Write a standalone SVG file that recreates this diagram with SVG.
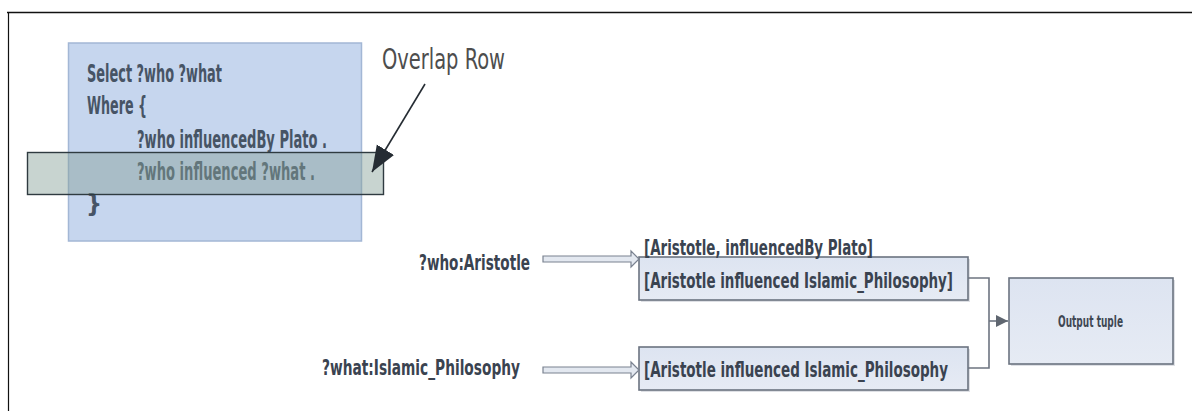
<svg xmlns="http://www.w3.org/2000/svg" width="1192" height="411" viewBox="0 0 1192 411">
  <style>
    .q { font-family: "Liberation Sans Narrow", "DejaVu Sans Condensed", "Liberation Sans", sans-serif; font-weight: bold; font-size: 25px; fill: #475465; }
    .lbl { font-family: "Liberation Sans Narrow", "DejaVu Sans Condensed", "Liberation Sans", sans-serif; font-weight: bold; font-size: 22px; fill: #3a4350; }
    .bx { font-family: "Liberation Sans Narrow", "DejaVu Sans Condensed", "Liberation Sans", sans-serif; font-weight: bold; font-size: 22px; fill: #3a4350; }
    .note { font-family: "Liberation Sans Narrow", "DejaVu Sans Condensed", "Liberation Sans", sans-serif; font-size: 29px; fill: #4d4d4d; }
    .node { fill: url(#g1); stroke: #6b7380; stroke-width: 1.6; }
    .shadow { fill: #c8ccd3; opacity: 0.6; }
    .hollow { fill: #e3e8f0; stroke: #7a8290; stroke-width: 1.2; }
    .conn { fill: none; stroke: #6d7480; stroke-width: 1.6; }
  </style>
  <defs>
    <linearGradient id="g1" x1="0" y1="0" x2="0" y2="1">
      <stop offset="0" stop-color="#dde4f1"/>
      <stop offset="1" stop-color="#e6ebf4"/>
    </linearGradient>
    <marker id="big" markerUnits="userSpaceOnUse" markerWidth="30" markerHeight="24" refX="26" refY="10" orient="auto">
      <path d="M0,0 L26,10 L0,20 Z" fill="#252c33"/>
    </marker>
    <marker id="small" markerUnits="userSpaceOnUse" markerWidth="14" markerHeight="14" refX="12" refY="7" orient="auto">
      <path d="M0,1 L12,7 L0,13 Z" fill="#5f6670"/>
    </marker>
  </defs>

  <rect width="1192" height="411" fill="#ffffff"/>

  <!-- page frame -->
  <g id="frame">
    <line x1="7" y1="12.5" x2="1192" y2="12.5" stroke="#111" stroke-width="1.6"/>
    <line x1="8.5" y1="12" x2="8.5" y2="411" stroke="#111" stroke-width="1.2"/>
  </g>

  <!-- query box -->
  <g id="query">
    <rect x="68.5" y="43" width="293" height="198" fill="#c6d6ee" stroke="#a3b7d5" stroke-width="1.5"/>
    <text class="q" x="87" y="82" textLength="135" lengthAdjust="spacingAndGlyphs">Select ?who ?what</text>
    <text class="q" x="87" y="114" textLength="60" lengthAdjust="spacingAndGlyphs">Where {</text>
    <text class="q" x="137" y="148" textLength="190" lengthAdjust="spacingAndGlyphs">?who influencedBy Plato .</text>
    <text class="q" x="137" y="180" textLength="178" lengthAdjust="spacingAndGlyphs">?who influenced ?what .</text>
    <text class="q" x="86" y="212">}</text>
  </g>

  <!-- overlap row band -->
  <g id="overlap-band">
    <rect x="27.5" y="152.5" width="356" height="42" fill="#859f97" fill-opacity="0.45" stroke="#2f3b40" stroke-width="1.4"/>
  </g>

  <g id="overlap-label">
    <text class="note" x="382" y="69" textLength="123" lengthAdjust="spacingAndGlyphs">Overlap Row</text>
  </g>

  <!-- left variable labels -->
  <g id="who-label">
    <text class="lbl" x="419" y="270" textLength="111" lengthAdjust="spacingAndGlyphs">?who:Aristotle</text>
  </g>
  <g id="what-label">
    <text class="lbl" x="322" y="375" textLength="198" lengthAdjust="spacingAndGlyphs">?what:Islamic_Philosophy</text>
  </g>

  <!-- tuple box 1 -->
  <g id="tuple1">
    <rect class="shadow" x="641" y="259" width="329" height="43"/>
    <rect class="node" x="639" y="257" width="329" height="43"/>
    <text class="bx" x="644" y="288" textLength="309" lengthAdjust="spacingAndGlyphs">[Aristotle influenced Islamic_Philosophy]</text>
  </g>
  <g id="tuple1-header">
    <text class="bx" x="644" y="255" textLength="229" lengthAdjust="spacingAndGlyphs">[Aristotle, influencedBy Plato]</text>
  </g>

  <!-- tuple box 2 -->
  <g id="tuple2">
    <rect class="shadow" x="641" y="349" width="329" height="43"/>
    <rect class="node" x="639" y="347" width="329" height="43"/>
    <text class="bx" x="644" y="377" textLength="304" lengthAdjust="spacingAndGlyphs">[Aristotle influenced Islamic_Philosophy</text>
  </g>

  <!-- output -->
  <g id="output">
    <rect class="shadow" x="1011" y="280" width="164" height="86"/>
    <rect class="node" x="1009" y="278" width="164" height="86"/>
    <text x="1058" y="327" textLength="65" lengthAdjust="spacingAndGlyphs" font-family="Liberation Sans Narrow, DejaVu Sans Condensed, Liberation Sans, sans-serif" font-weight="bold" font-size="15" fill="#3f4753">Output tuple</text>
  </g>

  <!-- connectors -->
  <g id="connectors">
    <line x1="425" y1="84" x2="372" y2="172" stroke="#252c33" stroke-width="1.6" marker-end="url(#big)"/>
    <path class="hollow" d="M543,256 L631,256 L631,251 L639,259 L631,267 L631,262 L543,262 Z"/>
    <path class="hollow" d="M543,367 L631,367 L631,362 L639,370 L631,378 L631,373 L543,373 Z"/>
    <polyline class="conn" points="968,278 989,278 989,368 968,368"/>
    <line class="conn" x1="989" y1="321" x2="1008" y2="321" marker-end="url(#small)"/>
  </g>
</svg>
